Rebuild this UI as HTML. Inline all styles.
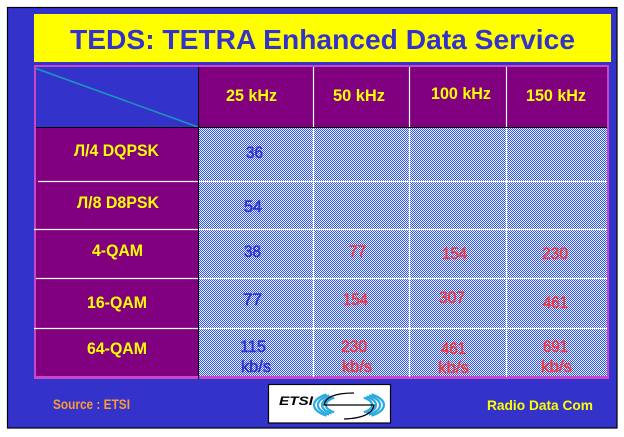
<!DOCTYPE html>
<html><head><meta charset="utf-8">
<style>
html,body{margin:0;padding:0;background:#fff;}
svg{display:block;}
text{font-family:"Liberation Sans","DejaVu Sans",sans-serif;}
</style></head>
<body>
<svg width="624" height="437" viewBox="0 0 624 437" xmlns="http://www.w3.org/2000/svg">
<defs>
<pattern id="ck" width="2" height="2" patternUnits="userSpaceOnUse">
<rect width="2" height="2" fill="#f0f3ff"/>
<rect width="1" height="1" fill="#2a55e8"/>
<rect x="1" y="1" width="1" height="1" fill="#2a55e8"/>
</pattern>
</defs>
<rect x="0" y="0" width="624" height="437" fill="#fff"/>
<!-- panel -->
<rect x="7.5" y="7.5" width="609.5" height="420.5" fill="#3333cc" stroke="#000" stroke-width="1.2"/>
<!-- title -->
<rect x="34" y="14" width="577" height="48" fill="#ffff00"/>
<text x="322.5" y="49" font-size="28" font-weight="bold" fill="#3333cc" text-anchor="middle" textLength="505" lengthAdjust="spacingAndGlyphs">TEDS: TETRA Enhanced Data Service</text>

<!-- table -->
<rect x="34" y="65" width="575" height="314" fill="#c846c8"/>
<rect x="36" y="67" width="162" height="60" fill="#3333cc"/>
<rect x="199" y="67" width="408" height="60" fill="#800080"/>
<rect x="36" y="128" width="162" height="248" fill="#800080"/>
<rect x="199" y="128" width="408" height="248" fill="url(#ck)"/>
<!-- diagonal -->
<line x1="36" y1="68.5" x2="198" y2="127" stroke="#1a98b8" stroke-width="1.5"/>
<!-- white grid -->
<g stroke="#fff" stroke-width="1.2">
<line x1="313.5" y1="67" x2="313.5" y2="377"/>
<line x1="409.5" y1="67" x2="409.5" y2="377"/>
<line x1="506.5" y1="67" x2="506.5" y2="377"/>
<line x1="38" y1="181.5" x2="607" y2="181.5"/>
<line x1="34" y1="229.5" x2="607" y2="229.5"/>
<line x1="36" y1="278.5" x2="607" y2="278.5"/>
<line x1="34" y1="328.5" x2="607" y2="328.5"/>
</g>
<!-- black lines -->
<line x1="36" y1="127.5" x2="607" y2="127.5" stroke="#000" stroke-width="1"/>
<line x1="198.5" y1="67" x2="198.5" y2="379" stroke="#000" stroke-width="1"/>

<!-- header text -->
<g font-size="17" font-weight="bold" fill="#ffff00" text-anchor="middle">
<text x="251.5" y="101" textLength="51" lengthAdjust="spacingAndGlyphs">25 kHz</text>
<text x="359" y="101" textLength="52" lengthAdjust="spacingAndGlyphs">50 kHz</text>
<text x="461" y="99" textLength="60" lengthAdjust="spacingAndGlyphs">100 kHz</text>
<text x="556" y="101" textLength="60" lengthAdjust="spacingAndGlyphs">150 kHz</text>
<!-- row labels -->
<text x="116.5" y="156" textLength="85" lengthAdjust="spacingAndGlyphs">Л/4 DQPSK</text>
<text x="118" y="208" textLength="82" lengthAdjust="spacingAndGlyphs">Л/8 D8PSK</text>
<text x="117.5" y="256" textLength="51" lengthAdjust="spacingAndGlyphs">4-QAM</text>
<text x="117" y="308" textLength="60" lengthAdjust="spacingAndGlyphs">16-QAM</text>
<text x="117" y="354" textLength="60" lengthAdjust="spacingAndGlyphs">64-QAM</text>
</g>

<!-- data -->
<g font-size="17" text-anchor="middle" stroke-width="0.6">
<g fill="#3333cc" stroke="#3333cc">
<text x="254.5" y="158" textLength="17" lengthAdjust="spacingAndGlyphs">36</text>
<text x="253" y="212" textLength="18" lengthAdjust="spacingAndGlyphs">54</text>
<text x="252.5" y="257" textLength="17" lengthAdjust="spacingAndGlyphs">38</text>
<text x="252.5" y="305" textLength="19" lengthAdjust="spacingAndGlyphs">77</text>
<text x="253" y="352" textLength="26" lengthAdjust="spacingAndGlyphs">115</text>
<text x="256" y="372" textLength="30" lengthAdjust="spacingAndGlyphs">kb/s</text>
</g>
<g fill="#f03a3a" stroke="#f03a3a">
<text x="357.5" y="257" textLength="17" lengthAdjust="spacingAndGlyphs">77</text>
<text x="454.5" y="259" textLength="25" lengthAdjust="spacingAndGlyphs">154</text>
<text x="555" y="259" textLength="26" lengthAdjust="spacingAndGlyphs">230</text>
<text x="355.5" y="305" textLength="25" lengthAdjust="spacingAndGlyphs">154</text>
<text x="452" y="303" textLength="26" lengthAdjust="spacingAndGlyphs">307</text>
<text x="555.5" y="308" textLength="25" lengthAdjust="spacingAndGlyphs">461</text>
<text x="354" y="352" textLength="26" lengthAdjust="spacingAndGlyphs">230</text>
<text x="357" y="372" textLength="30" lengthAdjust="spacingAndGlyphs">kb/s</text>
<text x="453.5" y="354" textLength="25" lengthAdjust="spacingAndGlyphs">461</text>
<text x="453.5" y="373" textLength="31" lengthAdjust="spacingAndGlyphs">kb/s</text>
<text x="555.5" y="352" textLength="25" lengthAdjust="spacingAndGlyphs">691</text>
<text x="556.5" y="372" textLength="31" lengthAdjust="spacingAndGlyphs">kb/s</text>
</g>
</g>

<!-- footer -->
<text x="53" y="409" font-size="14" font-weight="bold" fill="#ff9933" textLength="77" lengthAdjust="spacingAndGlyphs">Source : ETSI</text>
<text x="487" y="410" font-size="14" font-weight="bold" fill="#ffff00" textLength="106" lengthAdjust="spacingAndGlyphs">Radio Data Com</text>

<!-- ETSI logo -->
<rect x="268.5" y="384.5" width="122" height="38.5" fill="#fff" stroke="#000" stroke-width="1.2"/>
<text x="279" y="405" font-size="12" font-weight="bold" font-style="italic" fill="#000" textLength="34" lengthAdjust="spacingAndGlyphs">ETSI</text>
<g fill="none" stroke="#2aaae0" stroke-width="2.2">
<path d="M326.5 394.3 A35 14 0 0 0 326.5 415.7"/>
<path d="M329.1 395.4 A31 12.5 0 0 0 329.1 414.6"/>
<path d="M331.6 396.6 A27 11 0 0 0 331.6 413.4"/>
<path d="M334.2 397.7 A23 9.5 0 0 0 334.2 412.3"/>
<path d="M371.5 394.3 A35 14 0 0 1 371.5 415.7"/>
<path d="M368.9 395.4 A31 12.5 0 0 1 368.9 414.6"/>
<path d="M366.4 396.6 A27 11 0 0 1 366.4 413.4"/>
<path d="M363.8 397.7 A23 9.5 0 0 1 363.8 412.3"/>
</g>
<path d="M354 393 Q326 393 324 405 L374 405 Q372 418 344 419" fill="none" stroke="#000" stroke-width="1.2"/>
</svg>
</body></html>
